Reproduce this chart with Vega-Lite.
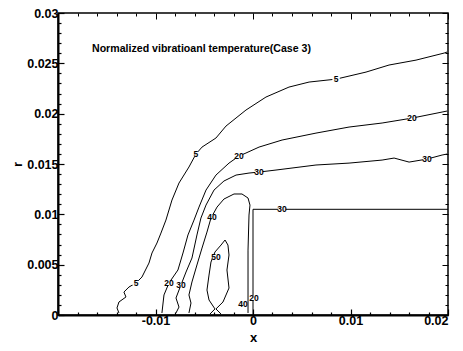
{
  "$schema": "https://vega.github.io/schema/vega-lite/v6.json",
  "width": 390,
  "height": 302,
  "autosize": {"type": "none"},
  "padding": {"left": 58, "top": 13, "right": 15, "bottom": 36},
  "background": "white",
  "title": {"text": "Normalized vibratioanl temperature(Case 3)", "anchor": "start", "frame": "group", "dx": 34, "offset": -51, "fontSize": 10.6, "font": "Liberation Sans", "fontWeight": "bold", "color": "black"},
  "config": {
    "view": {"stroke": "black", "strokeWidth": 1.5},
    "axis": {"grid": false, "labelColor": "black", "titleColor": "black", "tickColor": "black", "domainColor": "black", "labelFont": "Liberation Sans", "titleFont": "Liberation Sans", "labelFontWeight": "bold", "titleFontWeight": "bold"}
  },
  "resolve": {"axis": {"x": "independent", "y": "independent"}},
  "datasets": {
    "contours": [
      {"lv":"5","i":0,"x":-0.01375,"r":0.0002},{"lv":"5","i":1,"x":-0.01395,"r":0.0007},{"lv":"5","i":2,"x":-0.01375,"r":0.00129},{"lv":"5","i":3,"x":-0.01303,"r":0.00179},{"lv":"5","i":4,"x":-0.01324,"r":0.00228},{"lv":"5","i":5,"x":-0.01272,"r":0.00278},{"lv":"5","i":6,"x":-0.012,"r":0.00318},{"lv":"5","i":7,"x":-0.01139,"r":0.00377},{"lv":"5","i":8,"x":-0.01067,"r":0.00516},{"lv":"5","i":9,"x":-0.01036,"r":0.00616},{"lv":"5","i":10,"x":-0.00985,"r":0.00715},{"lv":"5","i":11,"x":-0.00944,"r":0.00814},{"lv":"5","i":12,"x":-0.00893,"r":0.00943},{"lv":"5","i":13,"x":-0.00831,"r":0.01142},{"lv":"5","i":14,"x":-0.00759,"r":0.01311},{"lv":"5","i":15,"x":-0.00657,"r":0.0147},{"lv":"5","i":16,"x":-0.00585,"r":0.01599},{"lv":"5","i":17,"x":-0.00523,"r":0.01668},{"lv":"5","i":18,"x":-0.0038,"r":0.01758},{"lv":"5","i":19,"x":-0.00277,"r":0.01877},{"lv":"5","i":20,"x":-0.00072,"r":0.02036},{"lv":"5","i":21,"x":0.00133,"r":0.02165},{"lv":"5","i":22,"x":0.00369,"r":0.02264},{"lv":"5","i":23,"x":0.00575,"r":0.02314},{"lv":"5","i":24,"x":0.00852,"r":0.02343},{"lv":"5","i":25,"x":0.01159,"r":0.02413},{"lv":"5","i":26,"x":0.01395,"r":0.02483},{"lv":"5","i":27,"x":0.01672,"r":0.02532},{"lv":"5","i":28,"x":0.0196,"r":0.02602},{"lv":"5","i":29,"x":0.0199,"r":0.02612},
      {"lv":"20","i":0,"x":-0.00934,"r":0.0002},{"lv":"20","i":1,"x":-0.00913,"r":0.00199},{"lv":"20","i":2,"x":-0.00862,"r":0.00318},{"lv":"20","i":3,"x":-0.0077,"r":0.00447},{"lv":"20","i":4,"x":-0.00718,"r":0.00616},{"lv":"20","i":5,"x":-0.00667,"r":0.00795},{"lv":"20","i":6,"x":-0.00605,"r":0.00943},{"lv":"20","i":7,"x":-0.00554,"r":0.01072},{"lv":"20","i":8,"x":-0.00482,"r":0.01241},{"lv":"20","i":9,"x":-0.0038,"r":0.0139},{"lv":"20","i":10,"x":-0.00246,"r":0.01509},{"lv":"20","i":11,"x":-0.00144,"r":0.01579},{"lv":"20","i":12,"x":-0.00072,"r":0.01609},{"lv":"20","i":13,"x":0.00062,"r":0.01668},{"lv":"20","i":14,"x":0.00298,"r":0.01738},{"lv":"20","i":15,"x":0.00646,"r":0.01807},{"lv":"20","i":16,"x":0.00985,"r":0.01867},{"lv":"20","i":17,"x":0.01324,"r":0.01907},{"lv":"20","i":18,"x":0.01631,"r":0.01956},{"lv":"20","i":19,"x":0.01939,"r":0.02016},{"lv":"20","i":20,"x":0.0199,"r":0.02026},
      {"lv":"30","i":0,"x":-0.0079,"r":0.0002},{"lv":"30","i":1,"x":-0.00759,"r":0.00079},{"lv":"30","i":2,"x":-0.0079,"r":0.00169},{"lv":"30","i":3,"x":-0.00739,"r":0.00298},{"lv":"30","i":4,"x":-0.00687,"r":0.00427},{"lv":"30","i":5,"x":-0.00626,"r":0.00566},{"lv":"30","i":6,"x":-0.00575,"r":0.00795},{"lv":"30","i":7,"x":-0.00534,"r":0.00963},{"lv":"30","i":8,"x":-0.00482,"r":0.01092},{"lv":"30","i":9,"x":-0.004,"r":0.01241},{"lv":"30","i":10,"x":-0.00298,"r":0.01331},{"lv":"30","i":11,"x":-0.00174,"r":0.0139},{"lv":"30","i":12,"x":-0.00041,"r":0.0141},{"lv":"30","i":13,"x":0.00062,"r":0.0142},{"lv":"30","i":14,"x":0.00236,"r":0.0144},{"lv":"30","i":15,"x":0.00646,"r":0.0149},{"lv":"30","i":16,"x":0.00985,"r":0.01509},{"lv":"30","i":17,"x":0.01324,"r":0.01539},{"lv":"30","i":18,"x":0.01447,"r":0.01559},{"lv":"30","i":19,"x":0.01601,"r":0.01519},{"lv":"30","i":20,"x":0.01785,"r":0.01549},{"lv":"30","i":21,"x":0.01939,"r":0.01589},{"lv":"30","i":22,"x":0.0199,"r":0.01599},
      {"lv":"40","i":0,"x":-0.00657,"r":0.0002},{"lv":"40","i":1,"x":-0.00636,"r":0.00119},{"lv":"40","i":2,"x":-0.00657,"r":0.00199},{"lv":"40","i":3,"x":-0.00626,"r":0.00328},{"lv":"40","i":4,"x":-0.00575,"r":0.00497},{"lv":"40","i":5,"x":-0.00523,"r":0.00665},{"lv":"40","i":6,"x":-0.00472,"r":0.00824},{"lv":"40","i":7,"x":-0.00431,"r":0.00963},{"lv":"40","i":8,"x":-0.00369,"r":0.01072},{"lv":"40","i":9,"x":-0.00298,"r":0.01152},{"lv":"40","i":10,"x":-0.00195,"r":0.01202},{"lv":"40","i":11,"x":-0.00113,"r":0.01202},{"lv":"40","i":12,"x":-0.00051,"r":0.01162},{"lv":"40","i":13,"x":-0.00031,"r":0.01092},{"lv":"40","i":14,"x":-0.00041,"r":0.00993},{"lv":"40","i":15,"x":-0.00051,"r":0.00645},{"lv":"40","i":16,"x":-0.00051,"r":0.0002},
      {"lv":"50","i":0,"x":-0.00441,"r":0.0001},{"lv":"50","i":1,"x":-0.0039,"r":0.0006},{"lv":"50","i":2,"x":-0.00451,"r":0.00149},{"lv":"50","i":3,"x":-0.00472,"r":0.00248},{"lv":"50","i":4,"x":-0.00451,"r":0.00397},{"lv":"50","i":5,"x":-0.00431,"r":0.00526},{"lv":"50","i":6,"x":-0.0039,"r":0.00626},{"lv":"50","i":7,"x":-0.00328,"r":0.00695},{"lv":"50","i":8,"x":-0.00287,"r":0.00745},{"lv":"50","i":9,"x":-0.00257,"r":0.00695},{"lv":"50","i":10,"x":-0.00246,"r":0.00596},{"lv":"50","i":11,"x":-0.00267,"r":0.00447},{"lv":"50","i":12,"x":-0.00246,"r":0.00268},{"lv":"50","i":13,"x":-0.00308,"r":0.00129},{"lv":"50","i":14,"x":-0.0038,"r":0.0006},{"lv":"50","i":15,"x":-0.00328,"r":0.0001},
      {"lv":"body","i":0,"x":0,"r":0},{"lv":"body","i":1,"x":0,"r":0.0105},{"lv":"body","i":2,"x":0.02,"r":0.0105}
    ],
    "labels": [
      {"t":"5","x":-0.012,"r":0.00318},{"t":"5","x":-0.00585,"r":0.01599},{"t":"5","x":0.00852,"r":0.02343},
      {"t":"20","x":-0.00862,"r":0.00318},{"t":"20","x":-0.00144,"r":0.01579},{"t":"20","x":0.01631,"r":0.01956},
      {"t":"30","x":-0.00739,"r":0.00298},{"t":"30","x":0.00062,"r":0.0142},{"t":"30","x":0.01785,"r":0.01549},{"t":"30","x":0.00298,"r":0.0105},
      {"t":"40","x":-0.00421,"r":0.00973},{"t":"50","x":-0.0038,"r":0.00576},
      {"t":"40","x":-0.00103,"r":0.00109},{"t":"20","x":0.0001,"r":0.00169}
    ]
  },
  "layer": [
    {
      "data": {"name": "contours"},
      "mark": {"type": "line", "color": "black", "strokeWidth": 1, "interpolate": "linear"},
      "encoding": {
        "x": {"field": "x", "type": "quantitative", "scale": {"domain": [-0.02, 0.02], "nice": false, "zero": false},
              "axis": {"orient": "bottom", "values": [-0.02, -0.018, -0.016, -0.014, -0.012, -0.01, -0.008, -0.006, -0.004, -0.002, 0, 0.002, 0.004, 0.006, 0.008, 0.01, 0.012, 0.014, 0.016, 0.018, 0.02],
                       "tickSize": {"condition": {"test": "abs(datum.value*100 - round(datum.value*100)) < 0.001", "value": -6}, "value": -3},
                       "tickWidth": 1.2, "domainWidth": 2, "labelFontSize": 12.5, "labelPadding": 5,
                       "labelExpr": "abs(datum.value*100 - round(datum.value*100)) < 0.001 && datum.value > -0.015 ? '' + datum.value : ''",
                       "labelOverlap": false, "title": "x", "titleFontSize": 13, "titlePadding": 2}},
        "y": {"field": "r", "type": "quantitative", "scale": {"domain": [0, 0.03], "nice": false, "zero": false},
              "axis": {"orient": "left", "values": [0, 0.001, 0.002, 0.003, 0.004, 0.005, 0.006, 0.007, 0.008, 0.009, 0.01, 0.011, 0.012, 0.013, 0.014, 0.015, 0.016, 0.017, 0.018, 0.019, 0.02, 0.021, 0.022, 0.023, 0.024, 0.025, 0.026, 0.027, 0.028, 0.029, 0.03],
                       "tickSize": {"condition": {"test": "abs(datum.value*200 - round(datum.value*200)) < 0.001", "value": -6}, "value": -3},
                       "tickWidth": 1.2, "domainWidth": 2, "labelFontSize": 12.5, "labelPadding": 6,
                       "labelExpr": "abs(datum.value*200 - round(datum.value*200)) < 0.001 ? '' + datum.value : ''",
                       "labelOverlap": false, "title": "r", "titleFontSize": 13, "titlePadding": 2}},
        "detail": {"field": "lv"},
        "order": {"field": "i", "type": "quantitative"}
      }
    },
    {
      "data": {"name": "labels"},
      "mark": {"type": "point", "shape": "M -1 -0.6 L 1 -0.6 L 1 0.6 L -1 0.6 Z", "filled": true, "color": "white", "opacity": 1, "size": 55},
      "encoding": {
        "x": {"field": "x", "type": "quantitative",
              "axis": {"orient": "top", "values": [-0.02, -0.018, -0.016, -0.014, -0.012, -0.01, -0.008, -0.006, -0.004, -0.002, 0, 0.002, 0.004, 0.006, 0.008, 0.01, 0.012, 0.014, 0.016, 0.018, 0.02],
                       "tickSize": {"condition": {"test": "abs(datum.value*100 - round(datum.value*100)) < 0.001", "value": -6}, "value": -3},
                       "tickWidth": 1, "domain": false, "labelExpr": "''", "title": null}},
        "y": {"field": "r", "type": "quantitative",
              "axis": {"orient": "right", "values": [0, 0.001, 0.002, 0.003, 0.004, 0.005, 0.006, 0.007, 0.008, 0.009, 0.01, 0.011, 0.012, 0.013, 0.014, 0.015, 0.016, 0.017, 0.018, 0.019, 0.02, 0.021, 0.022, 0.023, 0.024, 0.025, 0.026, 0.027, 0.028, 0.029, 0.03],
                       "tickSize": {"condition": {"test": "abs(datum.value*200 - round(datum.value*200)) < 0.001", "value": -6}, "value": -3},
                       "tickWidth": 1, "domain": false, "labelExpr": "''", "title": null}}
      }
    },
    {
      "data": {"name": "labels"},
      "mark": {"type": "text", "font": "Liberation Sans", "fontWeight": "bold", "fontSize": 8.5, "color": "black", "align": "center", "baseline": "middle"},
      "encoding": {
        "x": {"field": "x", "type": "quantitative", "axis": null},
        "y": {"field": "r", "type": "quantitative", "axis": null},
        "text": {"field": "t"}
      }
    }
  ]
}
